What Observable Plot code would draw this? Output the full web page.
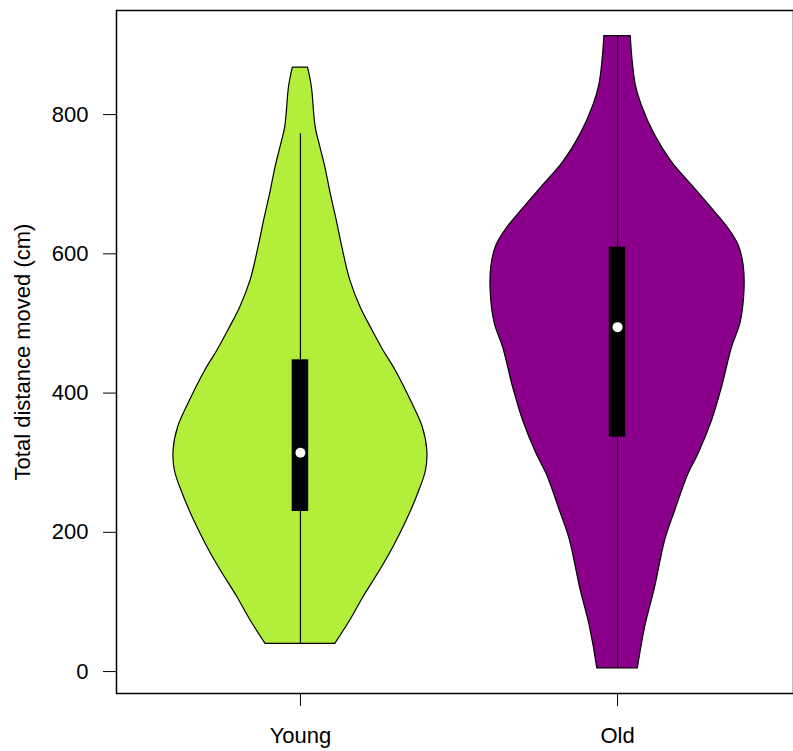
<!DOCTYPE html>
<html>
<head>
<meta charset="utf-8">
<script src="https://cdn.jsdelivr.net/npm/d3@7"></script>
<script src="https://cdn.jsdelivr.net/npm/@observablehq/plot@0.6"></script>
<style>
  html, body { margin: 0; padding: 0; background: #fff; overflow: hidden; }
  #chart svg { overflow: hidden; display: block; }
</style>
</head>
<body>
<div id="chart"></div>
<script>
// ---- data ----
const categories = ["Young", "Old"];
const fills = ["#B3EE3A", "#8B008B"];

// violin outlines: value levels (cm) and relative density (1 = widest)
const youngLevels  = [39.8, 73.3, 106.8, 145.1, 178.6, 216.9, 255.7, 288.8, 317.5, 351, 385, 432.5, 461.2, 490, 523.4, 561.8, 609.6, 648, 686.8, 724.6, 753.3, 782, 839.5, 867.4];
const youngDensity = [0.275, 0.393, 0.497, 0.628, 0.733, 0.838, 0.929, 0.990, 1.000, 0.964, 0.882, 0.750, 0.654, 0.568, 0.474, 0.393, 0.330, 0.286, 0.238, 0.196, 0.157, 0.120, 0.090, 0.060];

const oldLevels  = [4.7, 63.6, 121.1, 188.2, 231.3, 284, 312.8, 360.6, 408.5, 466, 499.6, 545, 583.3, 612, 636, 664.8, 698.3, 731.8, 770.1, 813.2, 842, 880.3, 912.8];
const oldDensity = [0.160, 0.217, 0.296, 0.375, 0.455, 0.560, 0.639, 0.745, 0.824, 0.903, 0.968, 1.000, 0.994, 0.955, 0.876, 0.745, 0.587, 0.428, 0.296, 0.191, 0.144, 0.117, 0.104];

// box summaries
const whiskerLow  = [39.8, 4.7];
const q1          = [229.9, 336.6];
const median      = [314.2, 494.7];
const q3          = [447.8, 609.6];
const whiskerHigh = [772.6, 912.8];

const yTicks = [0, 200, 400, 600, 800];
const yLabel = "Total distance moved (cm)";

// ---- build tables ----
const maxHalf = 0.4;    // widest half-width in x units (vioplot default)
const boxHalf = 0.026;  // half width of the black box in x units
const profiles = [[youngLevels, youngDensity], [oldLevels, oldDensity]];
const violin = [];
profiles.forEach(([lv, dn], i) => {
  lv.forEach((v, j) => violin.push({cat: categories[i], c: i + 1, v, d: dn[j]}));
});
const boxes = categories.map((cat, i) => ({
  cat, c: i + 1, lo: whiskerLow[i], q1: q1[i], med: median[i], q3: q3[i], hi: whiskerHigh[i]
}));

const font = "'Liberation Sans', Arial, Helvetica, sans-serif";

const chart = Plot.plot({
  width: 793,
  height: 751,
  marginTop: 10,
  marginBottom: 58,
  marginLeft: 116,
  marginRight: 0,
  style: {fontFamily: font, fontSize: "22px", background: "#fff", color: "#000"},
  x: {type: "linear", domain: [0.42, 2.58], range: [116, 801]},
  y: {domain: [-31.5, 949.5], range: [693, 10]},
  color: {domain: categories, range: fills},
  marks: [
    Plot.areaX(violin, {
      z: "cat",
      y: "v",
      x1: d => d.c - d.d * maxHalf,
      x2: d => d.c + d.d * maxHalf,
      fill: "cat",
      stroke: "#000",
      strokeWidth: 1.2,
      curve: "catmull-rom"
    }),
    Plot.ruleX(boxes, {x: "c", y1: "lo", y2: "hi", stroke: "#000", strokeWidth: 1.2}),
    Plot.rect(boxes, {x1: d => d.c - boxHalf, x2: d => d.c + boxHalf, y1: "q1", y2: "q3", fill: "#000"}),
    Plot.dot(boxes, {x: "c", y: "med", r: 5, fill: "#fff", stroke: null}),
    Plot.frame({stroke: "#000", strokeWidth: 1.5}),
    Plot.axisY({
      ticks: yTicks, tickSize: 13, tickPadding: 15, tickFormat: d => String(d),
      label: null, fontSize: 22, anchor: "left"
    }),
    Plot.axisX({
      ticks: [1, 2], tickSize: 13, tickPadding: 21, tickFormat: d => categories[d - 1],
      label: null, fontSize: 22, anchor: "bottom"
    }),
    Plot.text([yLabel], {
      frameAnchor: "left", textAnchor: "middle", dx: -94, rotate: -90,
      text: d => d, fontSize: 22, fill: "#000"
    })
  ]
});

document.getElementById("chart").appendChild(chart);
</script>
</body>
</html>
